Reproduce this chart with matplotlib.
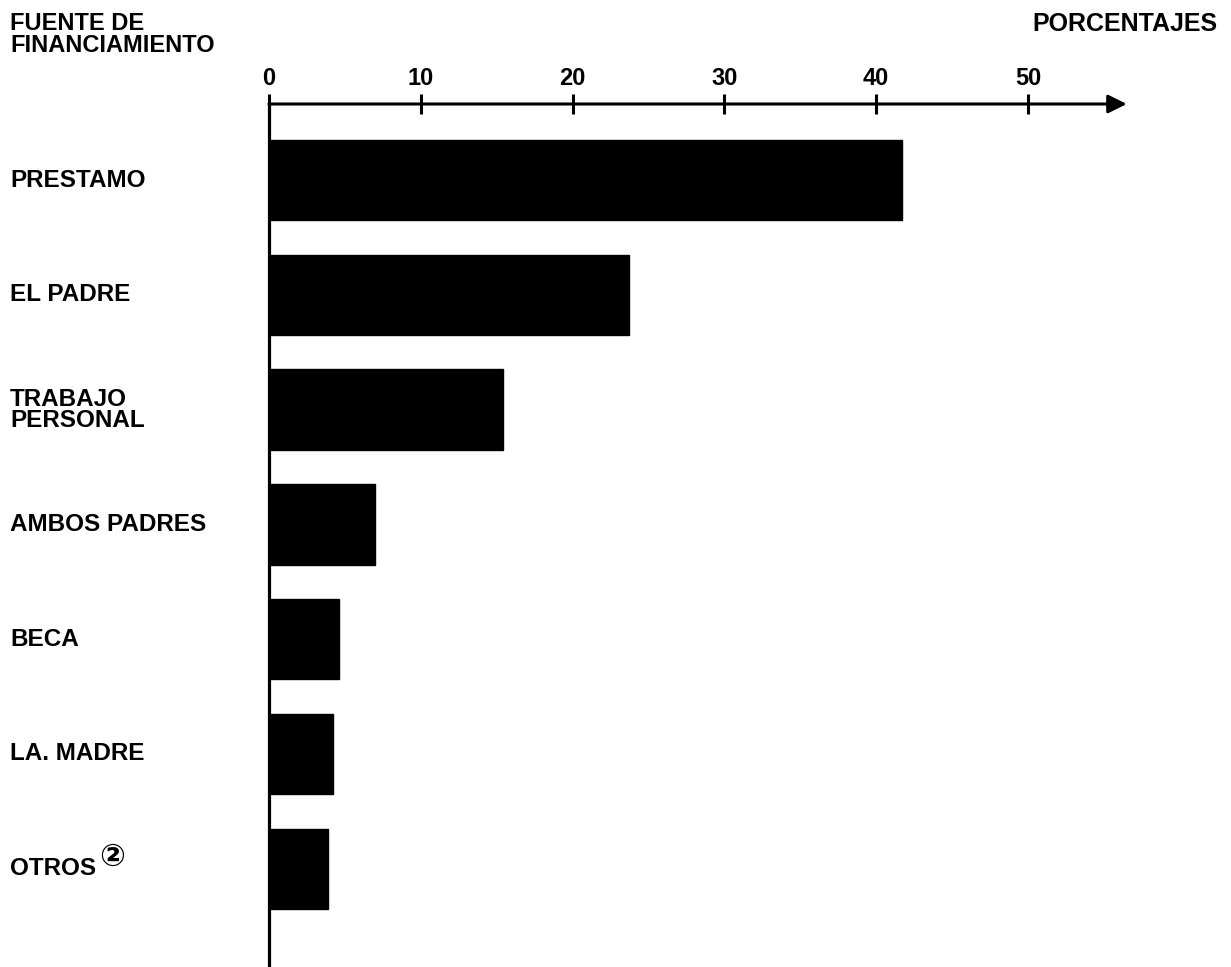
import matplotlib
matplotlib.use('Agg')
import matplotlib.pyplot as plt
from matplotlib.transforms import blended_transform_factory

plt.rcParams['font.family'] = ['Liberation Sans', 'DejaVu Sans']
plt.rcParams['font.weight'] = 'bold'

fuentes = ['PRESTAMO', 'EL PADRE', 'TRABAJO\nPERSONAL', 'AMBOS PADRES', 'BECA', 'LA. MADRE', 'OTROS']
porcentajes = [41.7, 23.7, 15.4, 7.0, 4.6, 4.2, 3.9]
ticks = [0, 10, 20, 30, 40, 50]

W, H = 1231, 967
fig = plt.figure(figsize=(W / 100, H / 100), dpi=100)
# axes placed in pixel terms so the 0 line sits at x=269 and the top axis at y=104
x0, x_end = 269, 269 + 57 * 15.18
ax = fig.add_axes([x0 / W, 0, (x_end - x0) / W, (H - 104) / H])

pos = list(range(len(fuentes)))
ax.barh(pos, porcentajes, height=0.70, color='black', edgecolor='black')

y_top = (104 - 180) / 114.8
y_bot = (H - 180) / 114.8
ax.set_ylim(y_bot, y_top)
ax.set_xlim(0, 57)

for s in ['top', 'right', 'bottom']:
    ax.spines[s].set_visible(False)
ax.spines['left'].set_linewidth(2.3)

# top axis drawn as an arrow
ax.annotate('', xy=(56.5, y_top), xytext=(0, y_top), xycoords='data',
            arrowprops=dict(arrowstyle='-|>', lw=2.2, color='black',
                            mutation_scale=28, shrinkA=0, shrinkB=0),
            annotation_clip=False)

ax.xaxis.tick_top()
ax.set_xticks(ticks)
ax.set_xticklabels([str(t) for t in ticks])
ax.tick_params(axis='x', direction='inout', length=14, width=2.2, pad=3, labelsize=17)
ax.set_yticks([])

tr = blended_transform_factory(fig.transFigure, ax.transData)
for i, name in enumerate(fuentes):
    ax.text(10 / W, i, name, transform=tr, ha='left', va='center',
            fontsize=17.5, fontweight='bold', linespacing=0.88)
ax.text(99 / W, len(fuentes) - 1 - 0.1, '②', transform=tr, ha='left', va='center',
        fontsize=22, fontweight='bold', family=['DejaVu Sans'])

fig.text(10 / W, 1 - 12 / H, 'FUENTE DE\nFINANCIAMIENTO', ha='left', va='top',
         fontsize=17, fontweight='bold', linespacing=0.95)
fig.text(1218 / W, 1 - 24 / H, 'PORCENTAJES', ha='right', va='center',
         fontsize=18, fontweight='bold')

fig.savefig('out.png', dpi=100)
